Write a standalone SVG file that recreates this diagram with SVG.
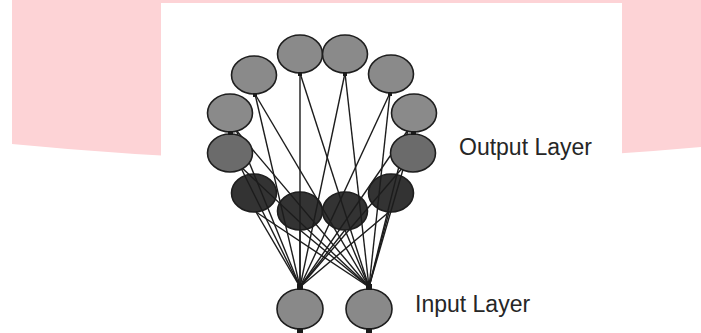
<svg xmlns="http://www.w3.org/2000/svg" width="701" height="333" viewBox="0 0 701 333">
<style>
.node{stroke:#1e1e1e;stroke-width:1.6}
.out{fill:#8a8a8a}
.out2{fill:#6b6b6b}
.hid{fill:#333333}
.inp{fill:#898989}
.knob{fill:#1a1a1a}
.lbl{font-family:"Liberation Sans",Arial,sans-serif;font-size:23px;fill:#262626}
#connectors line{stroke:#1c1c1c;stroke-width:1.4}
</style>
<rect x="0" y="0" width="701" height="333" fill="#ffffff"/>
<path d="M12,0 H701 V147 Q360,178 12,144 Z" fill="#fdd3d6"/>
<rect x="161" y="3" width="461" height="330" fill="#ffffff"/>

<g id="hidden-layer">
<g id="h1"><ellipse class="node hid" cx="254" cy="193" rx="22.5" ry="19"/></g>
<g id="h2"><ellipse class="node hid" cx="300" cy="211" rx="22.5" ry="19"/></g>
<g id="h3"><ellipse class="node hid" cx="345" cy="211" rx="22.5" ry="19"/></g>
<g id="h4"><ellipse class="node hid" cx="391" cy="193" rx="22.5" ry="19"/></g>
</g>

<g id="connectors">
<line x1="300" y1="73" x2="300" y2="287"/><line x1="300" y1="73" x2="369" y2="287"/>
<line x1="345" y1="73" x2="300" y2="287"/><line x1="345" y1="73" x2="369" y2="287"/>
<line x1="255" y1="94" x2="300" y2="287"/><line x1="255" y1="94" x2="369" y2="287"/>
<line x1="390" y1="93" x2="300" y2="287"/><line x1="390" y1="93" x2="369" y2="287"/>
<line x1="236" y1="130" x2="300" y2="287"/><line x1="236" y1="130" x2="369" y2="287"/>
<line x1="408" y1="130" x2="300" y2="287"/><line x1="408" y1="130" x2="369" y2="287"/>
<line x1="240" y1="166" x2="300" y2="287"/><line x1="240" y1="166" x2="369" y2="287"/>
<line x1="404" y1="166" x2="300" y2="287"/><line x1="404" y1="166" x2="369" y2="287"/>
<line x1="256" y1="212" x2="300" y2="287"/><line x1="256" y1="212" x2="369" y2="287"/>
<line x1="300" y1="230" x2="300" y2="287"/><line x1="300" y1="230" x2="369" y2="287"/>
<line x1="345" y1="230" x2="300" y2="287"/><line x1="345" y1="230" x2="369" y2="287"/>
<line x1="389" y1="212" x2="300" y2="287"/><line x1="389" y1="212" x2="369" y2="287"/>
</g>

<g id="output-layer">
<g id="o1"><ellipse class="node out" cx="300" cy="54" rx="22.5" ry="19"/></g>
<g id="o2"><ellipse class="node out" cx="345" cy="54" rx="22.5" ry="19"/></g>
<g id="o3"><ellipse class="node out" cx="254" cy="75" rx="22.5" ry="19"/></g>
<g id="o4"><ellipse class="node out" cx="391" cy="74" rx="22.5" ry="19"/></g>
<g id="o5"><ellipse class="node out" cx="230" cy="113" rx="22.5" ry="19"/></g>
<g id="o6"><ellipse class="node out" cx="414" cy="113" rx="22.5" ry="19"/></g>
<g id="o7"><ellipse class="node out2" cx="230" cy="153" rx="22.5" ry="19"/></g>
<g id="o8"><ellipse class="node out2" cx="413" cy="153" rx="22.5" ry="19"/></g>
</g>

<g id="input-layer">
<g id="i1"><ellipse class="node inp" cx="300" cy="309" rx="23" ry="20"/><rect class="knob" x="297" y="284" width="6" height="6"/><rect class="knob" x="297" y="328" width="6" height="5"/></g>
<g id="i2"><ellipse class="node inp" cx="369" cy="309" rx="23" ry="20"/><rect class="knob" x="366" y="284" width="6" height="6"/><rect class="knob" x="366" y="328" width="6" height="5"/></g>
</g>

<g id="knobs">
<rect class="knob" x="298" y="72" width="4" height="4"/>
<rect class="knob" x="343" y="72" width="4" height="4"/>
<rect class="knob" x="253" y="93" width="4" height="4"/>
<rect class="knob" x="388" y="92" width="4" height="4"/>
<rect class="knob" x="228" y="131" width="5" height="4"/>
<rect class="knob" x="411" y="131" width="5" height="4"/>
</g>

<g id="labels">
<text class="lbl" x="459" y="155">Output Layer</text>
<text class="lbl" x="415" y="312">Input Layer</text>
</g>
</svg>
